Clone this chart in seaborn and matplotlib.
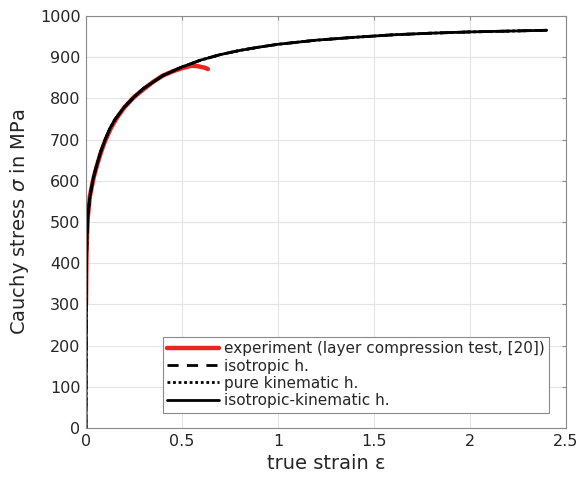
import seaborn as sns
import pandas as pd
import matplotlib.pyplot as plt

# model curves (all three hardening models overlap)
model_strain = [0, 0.003, 0.006, 0.01, 0.02, 0.035, 0.05, 0.075, 0.1, 0.125, 0.15, 0.2, 0.25,
                0.3, 0.4, 0.5, 0.6, 0.7, 0.8, 0.9, 1.0, 1.2, 1.4, 1.6, 1.8, 2.0, 2.2, 2.4]
model_stress = [0, 420, 475, 515, 560, 600, 628, 668, 700, 727, 748, 779, 803,
                824, 855, 876, 893, 906, 916, 924, 931, 941, 948, 954, 958, 961, 963, 965]

# experiment (layer compression test)
exp_strain = [0.0, 0.002, 0.005, 0.01, 0.02, 0.04, 0.06, 0.08, 0.1, 0.13, 0.16, 0.2,
              0.25, 0.3, 0.35, 0.4, 0.45, 0.5, 0.55, 0.58, 0.6, 0.62, 0.635]
exp_stress = [300, 400, 465, 515, 562, 608, 642, 672, 697, 728, 752, 778,
              803, 822, 840, 855, 865, 873, 879, 878, 876, 874, 871]

labels = ["experiment (layer compression test, [20])", "isotropic h.",
          "pure kinematic h.", "isotropic-kinematic h."]

sns.set_style("white")
plt.rcParams['font.family'] = ['DejaVu Sans']

fig, ax = plt.subplots(figsize=(5.81, 4.8), dpi=100)
fig.subplots_adjust(left=0.148, right=0.974, bottom=0.108, top=0.967)

sns.lineplot(x=exp_strain, y=exp_stress, color="#e8281e", linewidth=3.2,
             sort=False, ax=ax, label=labels[0])
sns.lineplot(x=model_strain, y=model_stress, color="black", linewidth=2,
             linestyle=(0, (4, 3)), sort=False, ax=ax, label=labels[1])
sns.lineplot(x=model_strain, y=model_stress, color="black", linewidth=2,
             linestyle=(0, (1, 1)), sort=False, ax=ax, label=labels[2])
sns.lineplot(x=model_strain, y=model_stress, color="black", linewidth=2,
             sort=False, ax=ax, label=labels[3])

ax.set_xlim(0, 2.5)
ax.set_ylim(0, 1000)
ax.set_xticks([0, 0.5, 1, 1.5, 2, 2.5])
ax.set_xticklabels(["0", "0.5", "1", "1.5", "2", "2.5"])
ax.set_yticks(range(0, 1001, 100))
ax.grid(True, color="#e4e4e4", linewidth=0.8)
ax.set_axisbelow(True)
for s in ax.spines.values():
    s.set_color("#8a8a8a")
    s.set_linewidth(0.8)
ax.tick_params(direction="in", top=True, right=True, length=3, color="#8a8a8a",
               labelsize=11.5, labelcolor="#262626", pad=4)

ax.set_xlabel("true strain ε", fontsize=14, color="#262626", labelpad=4)
ax.set_ylabel("Cauchy stress $\\sigma$ in MPa", fontsize=14, color="#262626", labelpad=6)

leg = ax.legend(loc="lower right", bbox_to_anchor=(0.981, 0.019), fontsize=11,
                handlelength=3.4, handletextpad=0.3, borderpad=0.3, labelspacing=0.15,
                fancybox=False, framealpha=1, edgecolor="#8a8a8a")
leg.get_frame().set_linewidth(0.8)

plt.savefig("out.png", dpi=100)
